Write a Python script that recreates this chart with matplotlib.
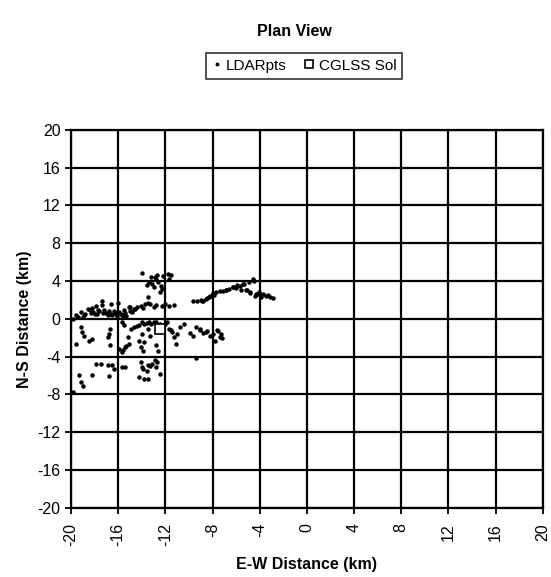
import matplotlib
matplotlib.use("Agg")
import matplotlib.pyplot as plt
from matplotlib.ticker import MultipleLocator

plt.rcParams['font.family'] = ['Liberation Sans', 'DejaVu Sans']
plt.rcParams['axes.unicode_minus'] = False

# LDAR source points (km east, km north of the site)
ldar_x = [
    -14.0, -12.7, -12.8, -12.9, -13.4, -13.1, -12.4, -11.8, -11.5, -12.3, -13.2,
    -12.6, -13.0, -12.2, -11.7, -13.6,
    -4.6, -4.9, -5.3, -5.7, -6.3, -5.6, -5.2, -4.8, -4.3, -6.9, -7.4, -7.7, -8.0,
    -8.3, -8.6, -8.9, -9.3, -9.7, -5.4, -6.3, -6.9, -8.0, -8.5, -8.8, -4.2, -3.7,
    -3.3, -2.9, -4.8, -5.1, -4.4, -3.9, -6.6, -7.1, -4.5, -4.1, -3.5, -5.9,
    -6.0, -7.9, -8.2, -9.0, -4.0, -3.1,
    -9.1, -8.5, -8.0, -7.5, -7.2, -9.7, -9.1, -8.6, -7.4, -9.4, -7.6, -7.8,
    -8.8, -8.2, -7.3, -9.9,
    -14.1, -13.7, -13.3, -12.8, -12.3, -11.7, -13.5, -12.5, -15.0, -14.8, -13.9,
    -13.0, -11.3, -14.4, -13.5, -12.0, -14.6,
    -19.6, -19.2, -18.8, -18.4, -18.1, -17.6, -17.2, -16.8, -16.4, -15.9, -15.5,
    -15.1, -17.4, -16.6, -18.2, -17.9, -16.2, -15.7, -17.0, -18.6, -19.0, -16.0,
    -15.3, -16.5, -17.4, -18.0, -19.4, -18.9, -18.3, -17.8, -17.3, -16.9, -16.3,
    -15.8, -15.4, -15.0, -14.7, -16.1, -15.6, -17.7, -16.6, -19.8,
    -14.7, -14.2, -13.8, -13.4, -13.0, -12.5, -13.5, -14.0, -13.2, -14.4, -13.6,
    -12.8, -14.9,
    -12.1, -11.7, -11.4, -11.3, -11.1, -11.0, -10.4, -11.9, -10.8, -11.5, -12.0,
    -19.2, -19.1, -18.9, -19.6, -18.5, -18.2, -16.7, -16.8, -16.9, -16.7,
    -15.9, -15.7, -15.4, -15.1, -15.2, -15.5, -15.7, -15.6, -15.3,
    -14.2, -14.1, -13.8, -13.9, -12.8, -12.6, -13.3, -14.0,
    -14.1, -13.5, -13.1, -12.7, -13.9, -13.6, -14.2, -13.8, -13.5, -12.5, -12.8,
    -13.3, -14.0, -12.9,
    -17.9, -17.5, -16.9, -16.5, -16.4, -15.7, -15.4, -18.2, -16.8, -19.3, -19.2,
    -19.0, -19.8, -9.4,
]
ldar_y = [
    4.8, 4.6, 4.2, 4.4, 3.9, 3.7, 3.5, 4.7, 4.6, 3.2, 4.4,
    3.9, 3.4, 4.5, 4.2, 3.6,
    4.2, 3.9, 3.7, 3.5, 3.4, 3.1, 3.0, 2.8, 2.6, 3.1, 2.9, 2.8, 2.65,
    2.3, 2.1, 1.9, 1.9, 1.9, 3.7, 3.4, 3.1, 2.75, 2.2, 1.9, 2.6, 2.6,
    2.5, 2.2, 2.75, 3.0, 2.4, 2.3, 3.2, 2.9, 4.0, 2.8, 2.4, 3.6,
    3.3, 2.5, 2.4, 2.0, 2.5, 2.3,
    -1.05, -1.3, -1.6, -1.3, -2.0, -1.8, -1.2, -1.4, -1.9, -0.9, -1.2, -2.3,
    -1.5, -1.8, -1.6, -1.5,
    1.4, 1.6, 1.6, 1.5, 1.4, 1.4, 2.3, 2.8, 1.2, 0.7, 1.1,
    1.3, 1.5, 1.3, 1.7, 1.6, 1.0,
    0.35, 0.7, 0.5, 0.9, 0.7, 0.8, 0.9, 0.8, 0.8, 0.7, 0.9,
    1.2, 1.9, 1.6, 1.1, 1.4, 0.5, 0.4, 0.6, 1.0, 0.2, 1.7,
    0.3, 0.4, 1.5, 0.5, 0.2, 0.4, 0.6, 0.5, 0.6, 0.4, 0.6,
    0.5, 0.6, 0.8, 1.0, 0.3, 0.2, 0.9, 0.5, 0.0,
    -0.9, -0.7, -0.5, -0.35, -0.35, -0.5, -1.1, -0.3, -0.6, -0.8, -0.4,
    -0.3, -1.1,
    -0.7, -1.1, -1.4, -1.9, -2.65, -1.6, -0.5, -0.3, -0.9, -1.2, -0.5,
    -0.9, -1.4, -1.8, -2.65, -2.3, -2.1, -1.1, -1.6, -1.9, -2.8,
    -3.2, -3.5, -3.0, -2.65, -1.9, -0.7, -0.35, -3.3, -2.9,
    -2.3, -3.0, -2.5, -3.4, -2.8, -3.4, -1.8, -1.6,
    -4.6, -4.9, -4.8, -4.6, -5.3, -5.5, -6.2, -6.4, -6.4, -5.8, -5.1,
    -5.0, -5.1, -4.4,
    -4.8, -4.8, -4.9, -4.9, -5.3, -5.1, -5.1, -6.0, -6.1, -6.0, -6.7,
    -7.1, -7.8, -4.1,
]

# CGLSS ground-strike solution
cglss_x = [-12.5]
cglss_y = [-1.05]

fig = plt.figure(figsize=(5.51, 5.77), dpi=100)
ax = fig.add_axes([0.129, 0.12, 0.856, 0.655])

ax.plot(ldar_x, ldar_y, linestyle="none", marker="o", markersize=2.2,
        color="black", label="LDARpts", zorder=3)
ax.plot(cglss_x, cglss_y, linestyle="none", marker="s", markersize=7,
        markerfacecolor="white", markeredgecolor="black", markeredgewidth=1.2,
        label="CGLSS Sol", zorder=4)

ax.set_xlim(-20, 20)
ax.set_ylim(-20, 20)
ax.xaxis.set_major_locator(MultipleLocator(4))
ax.yaxis.set_major_locator(MultipleLocator(4))
ax.grid(True, color="black", linewidth=1.6)
ax.set_axisbelow(True)
for sp in ax.spines.values():
    sp.set_linewidth(1.6)
ax.tick_params(direction="out", length=4, width=1.3, labelsize=11.5)
ax.tick_params(axis="x", pad=7)
plt.setp(ax.get_xticklabels(), rotation=90)

ax.set_xlabel("E-W Distance (km)", fontsize=11.5, fontweight="bold", labelpad=8)
ax.set_ylabel("N-S Distance (km)", fontsize=11.5, fontweight="bold", labelpad=4)

fig.suptitle("Plan View", x=0.535, y=0.958, fontsize=11.5, fontweight="bold")
leg = fig.legend(loc="center", bbox_to_anchor=(0.552, 0.886), ncol=2,
                 fontsize=11, frameon=True, fancybox=False, handlelength=0.6,
                 handletextpad=0.3, columnspacing=1.2, borderpad=0.4,
                 markerscale=0.8)
leg.get_frame().set_edgecolor("black")
leg.get_frame().set_linewidth(1.2)

fig.savefig("out.png", dpi=100)
